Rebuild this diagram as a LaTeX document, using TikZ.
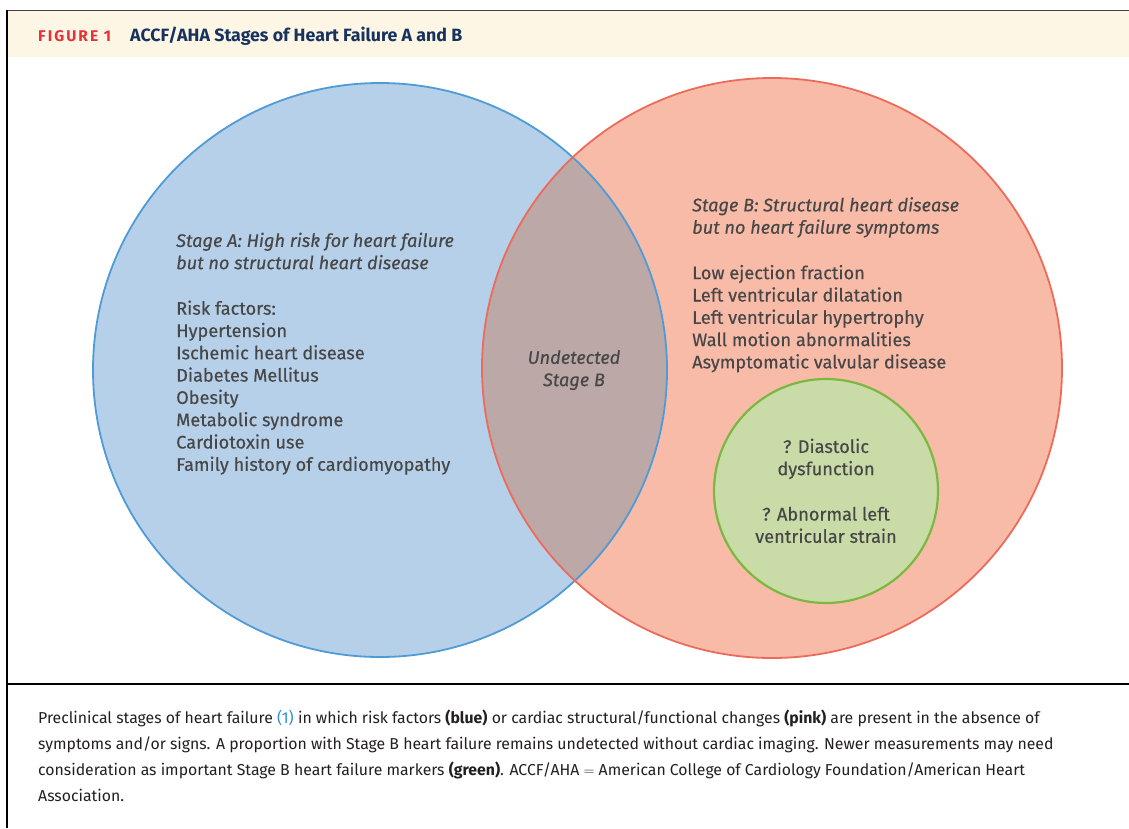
\documentclass[tikz,border=0pt]{standalone}
\usepackage{fontspec}
\setmainfont{Fira Sans}
\newfontfamily\circfont{Fira Sans}[FakeBold=0.35]
\definecolor{blueFill}{HTML}{B7D0EA}
\definecolor{blueLine}{HTML}{4F9BD5}
\definecolor{redFill}{HTML}{F8BBA8}
\definecolor{redLine}{HTML}{EC6B5B}
\definecolor{overlapFill}{HTML}{BCA8A6}
\definecolor{greenFill}{HTML}{C9DCA7}
\definecolor{greenLine}{HTML}{7CB841}
\definecolor{txt}{HTML}{474747}
\definecolor{cream}{HTML}{FEF6E4}
\definecolor{figred}{HTML}{E5313A}
\definecolor{navy}{HTML}{17325F}
\definecolor{linkblue}{HTML}{2E8EC9}
\definecolor{captxt}{HTML}{231F20}
\begin{document}
\begin{tikzpicture}[x=1pt,y=-1pt,
  circtext/.style={text=txt, inner sep=0pt, align=left, font=\circfont\fontsize{18.2}{22.3}\selectfont},
  captext/.style={text=captxt, inner sep=0pt, align=left, font=\fontsize{15.8}{26}\selectfont},
  frameline/.style={line width=1.6pt, black}]
\useasboundingbox (0,0) rectangle (1129,828);
% header band
\fill[cream] (8,11) rectangle (1129,57);
\draw[line width=1.4pt, black!75] (7,10.3) -- (1129,10.3);
\draw[frameline] (7,10) -- (7,828);
\draw[frameline] (7,684) -- (1129,684);
\node[anchor=base west, inner sep=0pt, text=figred, font=\fontsize{15.5}{18}\selectfont\bfseries] (fig) at (38,41.3) {\addfontfeature{LetterSpace=13}FIGURE 1};
\node[anchor=base west, inner sep=0pt, text=navy, font=\fontsize{17.8}{20}\selectfont\bfseries] (title) at (130,41.3) {ACCF/AHA Stages of Heart Failure A and B};
% circles
\coordinate (cA) at (380,370);
\coordinate (cB) at (772,368);
\coordinate (cG) at (826,491);
\fill[blueFill] (cA) circle[radius=287pt];
\fill[redFill] (cB) circle[radius=290pt];
\begin{scope}
  \clip (cA) circle[radius=287pt];
  \fill[overlapFill] (cB) circle[radius=290pt];
\end{scope}
\draw[blueLine, line width=1.8pt] (cA) circle[radius=287pt];
\draw[redLine, line width=1.8pt] (cB) circle[radius=290pt];
\draw[greenLine, fill=greenFill, line width=2.2pt] (cG) circle[radius=112pt];
% texts
\node[circtext, anchor=north west] (stA) at (176,232.5) {\textit{Stage A: High risk for heart failure}\\
\textit{but no structural heart disease}\\[23.2pt]
Risk factors:\\
Hypertension\\
Ischemic heart disease\\
Diabetes Mellitus\\
Obesity\\
Metabolic syndrome\\
Cardiotoxin use\\
Family history of cardiomyopathy};
\node[circtext, anchor=north west] (stB) at (692,197) {\textit{Stage B: Structural heart disease}\\
\textit{but no heart failure symptoms}\\[23.2pt]
Low ejection fraction\\
Left ventricular dilatation\\
Left ventricular hypertrophy\\
Wall motion abnormalities\\
Asymptomatic valvular disease};
\node[circtext, align=center, anchor=north] (und) at (574,350) {\textit{Undetected}\\\textit{Stage B}};
\node[circtext, align=center, anchor=north] (grn) at (826,438.5) {? Diastolic\\dysfunction\\[23pt]? Abnormal left\\ventricular strain};
% caption
\node[captext, anchor=north west] (cap) at (38,710) {Preclinical stages of heart failure \textcolor{linkblue}{(1)} in which risk factors \textbf{(blue)} or cardiac structural/functional changes \textbf{(pink)} are present in the absence of\\
symptoms and/or signs. A proportion with Stage B heart failure remains undetected without cardiac imaging. Newer measurements may need\\
consideration as important Stage B heart failure markers \textbf{(green)}. ACCF/AHA $=$ American College of Cardiology Foundation/American Heart\\
Association.};
\end{tikzpicture}
\end{document}
